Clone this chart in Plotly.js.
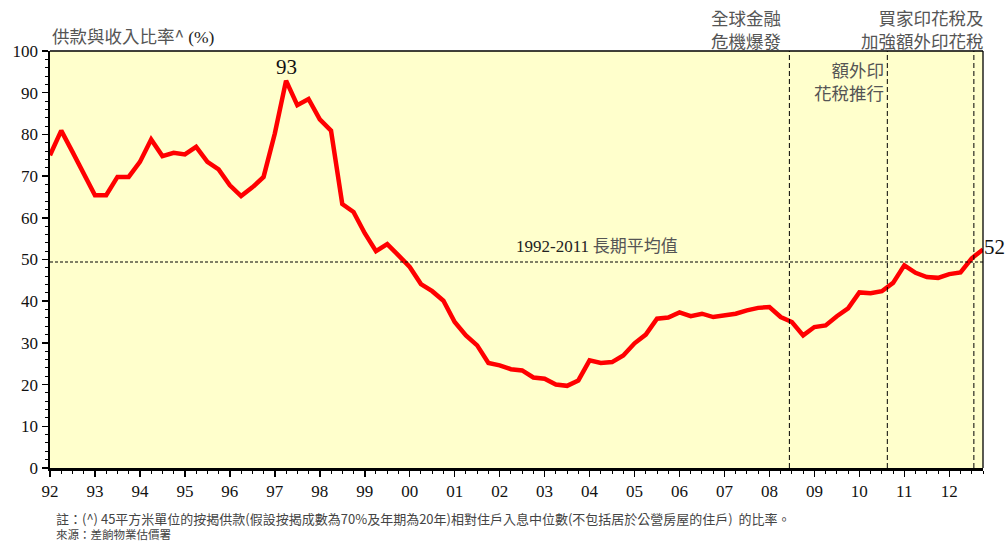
<!DOCTYPE html>
<html>
<head>
<meta charset="utf-8">
<script src="https://cdn.plot.ly/plotly-3.0.1.min.js"></script>
<style>
html,body{margin:0;padding:0;background:#fff;}
#chart{width:1008px;height:546px;}
</style>
</head>
<body>
<div id="chart"></div>
<script>
// Quarterly periods 1992 Q1 – 2012 Q4
const startYear = 1992;
const endYear = 2012;
const quartersPerYear = 4;
// Mortgage payment-to-income ratio (%)
const ratio = [
  75.0, 80.9, 75.8, 70.6,
  65.4, 65.4, 69.8, 69.8,
  73.4, 78.8, 74.8, 75.6,
  75.2, 77.0, 73.4, 71.6,
  67.8, 65.2, 67.3, 69.8,
  80.2, 92.9, 87.0, 88.5,
  83.6, 80.9, 63.3, 61.4,
  56.3, 52.0, 53.7, 51.0,
  48.2, 44.1, 42.4, 40.1,
  35.0, 31.8, 29.4, 25.2,
  24.6, 23.7, 23.4, 21.7,
  21.4, 20.0, 19.7, 21.0,
  25.8, 25.2, 25.4, 27.0,
  29.9, 32.0, 35.8, 36.1,
  37.3, 36.4, 37.0, 36.2,
  36.6, 37.0, 37.8, 38.4,
  38.6, 36.2, 35.0, 31.8,
  33.8, 34.2, 36.4, 38.3,
  42.1, 41.9, 42.4, 44.4,
  48.6, 46.8, 45.8, 45.6,
  46.5, 46.9, 50.3, 52.4
];
const longTermAverage = 49.4;
const tickYears = [1992,1993,1994,1995,1996,1997,1998,1999,2000,2001,2002,2003,2004,2005,2006,2007,2008,2009,2010,2011,2012];
const tickLabels = ['92','93','94','95','96','97','98','99','00','01','02','03','04','05','06','07','08','09','10','11','12'];
// Policy events (decimal year) and their labels
const eventX = [2008.444, 2010.622, 2012.547];
const eventLabels = ['全球金融<br>危機爆發', '額外印<br>花稅推行', '買家印花稅及<br>加強額外印花稅'];
const peakLabel = '93';
const lastLabel = '52';

const xq = [];
for (let y = startYear; y <= endYear; y++) {
  for (let q = 0; q < quartersPerYear; q++) xq.push(y + q / quartersPerYear);
}
const xs = xq.slice(0, ratio.length);

const serif = 'Liberation Serif, Times New Roman, serif';
const cjk = 'Noto Sans CJK TC, Noto Sans CJK SC, sans-serif';

const trace = {
  x: xs, y: ratio, type: 'scatter', mode: 'lines',
  line: {color: '#FF0000', width: 4.5},
  hoverinfo: 'skip'
};

const shapes = [
  {type:'line', xref:'paper', yref:'y', x0:0, x1:1, y0:longTermAverage, y1:longTermAverage,
   line:{color:'#000', width:1, dash:'3px,2px'}},
  {type:'line', xref:'paper', yref:'paper', x0:0, x1:1, y0:1, y1:1, line:{color:'#000', width:1.3}},
  {type:'line', xref:'paper', yref:'paper', x0:1, x1:1, y0:0, y1:1, line:{color:'#000', width:1.3}}
];
eventX.forEach(function(x){
  shapes.push({type:'line', xref:'x', yref:'paper', x0:x, x1:x, y0:0, y1:1,
    line:{color:'#000', width:1, dash:'5px,3px'}});
});

const iMax = ratio.indexOf(Math.max.apply(null, ratio));
const annotations = [
  {xref:'paper', yref:'paper', x:0, y:1, xanchor:'left', yanchor:'bottom', yshift:1, showarrow:false,
   text:'供款與收入比率^ <span style="font-family:Liberation Serif;color:#222">(%)</span>', font:{family:cjk, size:17.5, color:'#555'}},
  {xref:'x', yref:'y', x:xs[iMax], y:ratio[iMax],
   yanchor:'bottom', yshift:0, showarrow:false, text:peakLabel, font:{family:serif, size:21, color:'#111'}},
  {xref:'x', yref:'y', x:xs[xs.length-1], y:ratio[ratio.length-1], xanchor:'left', yanchor:'middle', xshift:-1, yshift:2,
   showarrow:false, text:lastLabel, font:{family:serif, size:21, color:'#111'}},
  {xref:'x', yref:'y', x:2004.16, y:longTermAverage, yanchor:'bottom', yshift:3, showarrow:false,
   text:'<span style="font-family:Liberation Serif;color:#222">1992-2011</span> 長期平均值', font:{family:cjk, size:17, color:'#555'}},
  {xref:'x', yref:'paper', x:eventX[0], y:1, xanchor:'right', yanchor:'bottom', xshift:-6, yshift:-4, showarrow:false,
   align:'right', text:eventLabels[0], font:{family:cjk, size:17.5, color:'#555'}},
  {xref:'x', yref:'paper', x:eventX[1], y:1, xanchor:'right', yanchor:'top', xshift:-1, yshift:-4, showarrow:false,
   align:'right', text:eventLabels[1], font:{family:cjk, size:17.5, color:'#555'}},
  {xref:'paper', yref:'paper', x:1, y:1, xanchor:'right', yanchor:'bottom', xshift:3, yshift:-4, showarrow:false,
   align:'right', text:eventLabels[2], font:{family:cjk, size:17.5, color:'#555'}},
  {xref:'paper', yref:'paper', x:0, y:0, xanchor:'left', yanchor:'middle', xshift:4, yshift:-50.5, showarrow:false, align:'left',
   text:'註：(^) 45平方米單位的按揭供款(假設按揭成數為70%及年期為20年)相對住戶入息中位數(不包括居於公營房屋的住戶)  的比率。',
   font:{family:cjk, size:13, color:'#444'}},
  {xref:'paper', yref:'paper', x:0, y:0, xanchor:'left', yanchor:'middle', xshift:4, yshift:-66, showarrow:false, align:'left',
   text:'來源：差餉物業估價署',
   font:{family:cjk, size:11.5, color:'#444'}}
];

const layout = {
  width:1008, height:546,
  margin:{l:50, r:25, t:51, b:78, pad:0},
  paper_bgcolor:'#fff', plot_bgcolor:'#FFFFCC',
  showlegend:false,
  xaxis:{
    range:[startYear, endYear + 0.75], tickmode:'array', tickvals:tickYears, ticktext:tickLabels,
    ticks:'outside', ticklen:6, tickwidth:1.5, tickcolor:'#000',
    showgrid:false, zeroline:false, showline:true, linecolor:'#000', linewidth:2.5,
    tickfont:{family:serif, size:17, color:'#111'},
    minor:{tickmode:'linear', tick0:startYear, dtick:0.25, ticks:'outside', ticklen:3, tickwidth:1, tickcolor:'#000', showgrid:false},
    fixedrange:true
  },
  yaxis:{
    range:[0,100], dtick:10, tick0:0,
    ticks:'outside', ticklen:6, tickwidth:1.5, tickcolor:'#000',
    showgrid:false, zeroline:false, showline:true, linecolor:'#000', linewidth:2.5,
    tickfont:{family:serif, size:17, color:'#111'},
    minor:{dtick:2, ticks:'outside', ticklen:3, tickwidth:1, tickcolor:'#000', showgrid:false},
    fixedrange:true
  },
  shapes:shapes,
  annotations:annotations
};

Plotly.newPlot('chart', [trace], layout, {displayModeBar:false, staticPlot:true});
</script>
</body>
</html>
